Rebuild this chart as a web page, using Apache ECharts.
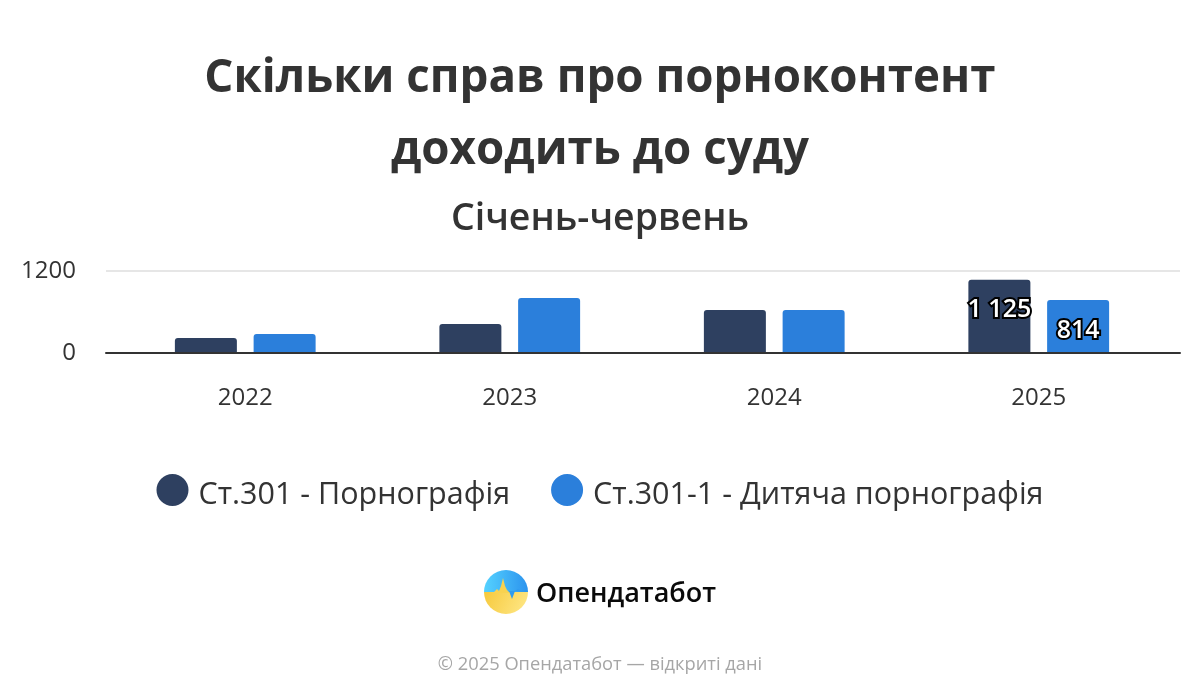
<!DOCTYPE html>
<html>
<head>
<meta charset="utf-8">
<title>Опендатабот</title>
<script src="https://cdn.jsdelivr.net/npm/echarts@6/dist/echarts.min.js"></script>
<style>
  html, body { margin: 0; padding: 0; background: #fff; }
  #chart { width: 1200px; height: 700px; }
</style>
</head>
<body>
<div id="chart"></div>
<script>
const years = ['2022', '2023', '2024', '2025'];
const art301 = [231, 446, 662, 1125];
const art3011 = [292, 846, 662, 814];
const art301Labels = ['', '', '', '1 125'];
const art3011Labels = ['', '', '', '814'];
const yTickLabels = ['0', '1200'];
// the top gridline of the reference sits a bit above the 1200 it is labelled with
const yMax = 1261;

const FONT = '"Open Sans", "Noto Sans", sans-serif';
const TEXT = '#333333';
// circle plus an empty point under it, so the dot sits a little above the text
const LEGEND_ICON = 'path://M16 0A16 16 0 1 1 16 32A16 16 0 1 1 16 0ZM16 42L16 42Z';

function barLabel(labels) {
  return {
    show: true,
    position: 'insideTop',
    distance: 18,
    formatter: p => labels[p.dataIndex],
    color: '#fff',
    fontFamily: FONT,
    fontSize: 25,
    fontWeight: 600,
    textBorderColor: '#000',
    textBorderWidth: 4
  };
}

const myChart = echarts.init(document.getElementById('chart'));
const option = {
  animation: false,
  backgroundColor: '#fff',
  title: [
    {
      text: 'Скільки справ про порноконтент\nдоходить до суду',
      left: 600,
      top: 43,
      padding: 0,
      textAlign: 'center',
      textStyle: { fontFamily: FONT, fontSize: 45.7, fontWeight: 700, color: TEXT, lineHeight: 72 }
    },
    {
      text: 'Січень-червень',
      left: 600,
      top: 200,
      padding: 0,
      textAlign: 'center',
      textStyle: { fontFamily: FONT, fontSize: 37.5, fontWeight: 600, color: TEXT }
    }
  ],
  legend: {
    top: 469,
    left: 'center',
    icon: LEGEND_ICON,
    itemWidth: 32,
    itemHeight: 42,
    itemGap: 41,
    selectedMode: false,
    textStyle: { fontFamily: FONT, fontSize: 30.5, color: TEXT, padding: [0, 0, 0, 5] },
    data: ['Ст.301 - Порнографія', 'Ст.301-1 - Дитяча порнографія']
  },
  grid: [
    { left: 113, right: 29, top: 271, height: 82 },
    { left: 106, right: 20, top: 271, height: 82 }
  ],
  xAxis: [
    {
      type: 'category',
      gridIndex: 0,
      data: years,
      axisLine: { show: false },
      axisTick: { show: false },
      axisLabel: { margin: 33, fontFamily: FONT, fontSize: 24, color: TEXT }
    },
    {
      type: 'category',
      gridIndex: 1,
      data: years,
      z: 5,
      axisLine: { lineStyle: { color: TEXT, width: 2 } },
      axisTick: { show: false },
      axisLabel: { show: false }
    }
  ],
  yAxis: [
    { type: 'value', gridIndex: 0, min: 0, max: yMax, interval: yMax, show: false },
    {
      type: 'value',
      gridIndex: 1,
      min: 0,
      max: yMax,
      interval: yMax,
      axisLine: { show: false },
      axisTick: { show: false },
      splitLine: { lineStyle: { color: '#e6e6e6', width: 2 } },
      axisLabel: {
        margin: 30,
        fontFamily: FONT,
        fontSize: 24,
        color: TEXT,
        formatter: v => yTickLabels[v === 0 ? 0 : 1]
      }
    }
  ],
  series: [
    {
      name: 'Ст.301 - Порнографія',
      type: 'bar',
      barWidth: 62,
      barGap: '27%',
      data: art301,
      itemStyle: { color: '#2e4060', borderRadius: [3, 3, 0, 0] },
      label: barLabel(art301Labels)
    },
    {
      name: 'Ст.301-1 - Дитяча порнографія',
      type: 'bar',
      barWidth: 62,
      data: art3011,
      itemStyle: { color: '#2b7fdb', borderRadius: [3, 3, 0, 0] },
      label: barLabel(art3011Labels)
    }
  ],
  graphic: [
    // logo
    {
      type: 'sector',
      shape: { cx: 506, cy: 592, r: 22, startAngle: Math.PI, endAngle: Math.PI * 2 },
      style: { fill: new echarts.graphic.LinearGradient(0, 0, 1, 0, [
        { offset: 0, color: '#55d2ff' }, { offset: 1, color: '#2b93ee' }
      ]) }
    },
    {
      type: 'sector',
      shape: { cx: 506, cy: 592, r: 22, startAngle: 0, endAngle: Math.PI },
      style: { fill: new echarts.graphic.LinearGradient(0, 0, 1, 1, [
        { offset: 0, color: '#f6c93c' }, { offset: 1, color: '#ffe98a' }
      ]) }
    },
    {
      type: 'polygon',
      shape: { points: [[490, 593], [494, 592], [497, 589], [499, 591], [501, 586], [503, 578], [505, 586], [507, 590], [510, 593]] },
      style: { fill: '#f8d250' }
    },
    {
      type: 'polygon',
      shape: { points: [[509, 591], [512, 599], [515, 591], [518, 589], [521, 591]] },
      style: { fill: '#2f9cf0' }
    },
    {
      type: 'text',
      left: 536,
      top: 581,
      style: { text: 'Опендатабот', fontFamily: FONT, fontSize: 27, fontWeight: 600, fill: '#0a0a0a' }
    },
    {
      type: 'text',
      left: 'center',
      top: 656,
      style: { text: '© 2025 Опендатабот — відкриті дані', fontFamily: FONT, fontSize: 18.3, fill: '#a6a6a6' }
    }
  ]
};

myChart.setOption(option);
</script>
</body>
</html>
